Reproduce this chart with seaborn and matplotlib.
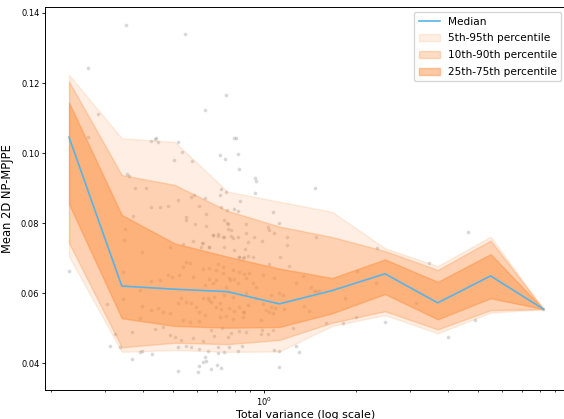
import matplotlib
matplotlib.use("Agg")
import matplotlib.pyplot as plt
import seaborn as sns

# binned statistics (log-spaced bins of total variance)
x_bins = [0.229, 0.341, 0.508, 0.757, 1.120, 1.668, 2.486, 3.703, 5.518, 8.222]
median = [0.1045, 0.0620, 0.0611, 0.0604, 0.0569, 0.0607, 0.0655, 0.0572, 0.0649, 0.0554]
p5 = [0.0704, 0.0432, 0.0437, 0.0432, 0.0433, 0.0506, 0.0537, 0.0485, 0.0544, 0.0554]
p95 = [0.1223, 0.1042, 0.1032, 0.0890, 0.0861, 0.0832, 0.0728, 0.0677, 0.0761, 0.0554]
p10 = [0.0743, 0.0445, 0.0458, 0.0454, 0.0466, 0.0515, 0.0548, 0.0496, 0.0551, 0.0554]
p90 = [0.1204, 0.0937, 0.0909, 0.0835, 0.0790, 0.0760, 0.0720, 0.0666, 0.0750, 0.0554]
p25 = [0.0854, 0.0528, 0.0506, 0.0501, 0.0503, 0.0542, 0.0597, 0.0525, 0.0585, 0.0554]
p75 = [0.1144, 0.0823, 0.0742, 0.0704, 0.0670, 0.0643, 0.0696, 0.0632, 0.0711, 0.0554]

# individual samples
pts_x = [
    0.265, 0.351, 0.285, 0.265, 0.355, 0.360, 0.376, 0.371, 0.349, 0.346,
    0.397, 0.229, 0.344, 0.391, 0.344, 0.396, 0.305, 0.391, 0.367, 0.325,
    0.311, 0.336, 0.391, 0.397, 0.367, 0.409,
    0.437, 0.443, 0.426, 0.449, 0.520, 0.551, 0.746, 0.641, 0.798, 0.807,
    0.537, 0.714, 0.741, 0.817, 0.506, 0.580, 0.829, 0.935, 0.940, 0.722,
    0.749, 0.718, 0.930, 0.586, 0.577, 0.520, 0.639, 0.830, 0.426, 0.456,
    0.611, 0.483, 0.722, 0.753, 0.798, 0.818, 0.645, 0.552, 0.555, 0.740,
    0.755, 0.763, 0.778, 0.763, 0.871, 0.645, 0.591, 0.678, 0.704, 0.731,
    0.788, 0.818, 0.583, 0.629, 0.541, 0.489, 0.621, 0.661, 0.882, 0.860,
    0.829, 0.882, 0.552, 0.569, 0.541, 0.629, 0.483, 0.499, 0.527, 0.583,
    0.731, 0.768, 0.798, 0.426, 0.454, 0.860, 0.534, 0.555, 0.521, 0.576,
    0.629, 0.661, 0.448, 0.426, 0.465, 0.489, 0.598, 0.613, 0.695, 0.722,
    0.768, 0.798, 0.829, 0.860, 0.713, 0.749, 0.788, 0.849, 0.541, 0.569,
    0.613, 0.465, 0.437, 0.669, 0.727, 0.778, 0.829, 0.871, 0.489, 0.508,
    0.534, 0.583, 0.629, 0.686, 0.759, 0.555, 0.576, 0.521, 0.613, 0.653,
    0.704, 0.768, 0.818, 0.429, 0.637, 0.629, 0.610, 0.669, 0.700, 0.722,
    0.521, 0.605, 0.645, 0.704, 0.846, 0.740,
    1.064, 1.114, 1.025, 1.033, 1.078, 1.191, 1.475, 0.983, 1.125, 1.201,
    1.038, 0.987, 1.078, 1.269, 1.334, 1.421, 1.482, 1.052, 1.114, 1.148,
    1.840, 0.987, 1.052, 1.086, 1.156, 1.396, 1.033, 1.064, 0.975, 1.237,
    1.598, 1.812, 1.064, 1.025, 0.983, 0.972, 1.269, 1.078, 1.119, 1.295,
    1.119, 1.468, 1.351, 1.513, 1.457, 2.018, 1.998, 2.317, 2.346, 2.486,
    3.132, 3.469, 4.003, 4.642, 4.918, 8.222,
    0.681, 0.704, 0.740, 0.778, 0.871, 0.927, 0.626, 0.658, 0.740, 0.798,
    0.867, 1.189, 0.824, 0.849, 0.916, 0.704, 0.731, 0.695, 0.661, 0.788,
    0.829, 0.893, 0.661, 0.695, 0.774, 0.818, 0.871, 0.916, 0.637, 0.678,
    0.749, 0.940, 0.653, 0.686, 0.740, 0.788, 0.871, 0.940, 0.669, 0.713,
    0.882, 1.013, 0.849, 0.637,
]
pts_y = [
    0.1242, 0.1366, 0.1111, 0.1045, 0.0940, 0.0934, 0.0901, 0.0821, 0.0783, 0.0751,
    0.0718, 0.0664, 0.0661, 0.0609, 0.0583, 0.0563, 0.0569, 0.0529, 0.0489, 0.0483,
    0.0449, 0.0445, 0.0432, 0.0434, 0.0411, 0.0900,
    0.1041, 0.1042, 0.1034, 0.1032, 0.1031, 0.1341, 0.1166, 0.1122, 0.1043, 0.1044,
    0.1002, 0.0994, 0.0982, 0.0996, 0.0980, 0.0977, 0.0954, 0.0928, 0.0920, 0.0896,
    0.0889, 0.0881, 0.0887, 0.0879, 0.0874, 0.0866, 0.0871, 0.0864, 0.0845, 0.0847,
    0.0850, 0.0849, 0.0845, 0.0837, 0.0839, 0.0835, 0.0826, 0.0818, 0.0809, 0.0809,
    0.0801, 0.0797, 0.0780, 0.0782, 0.0796, 0.0791, 0.0797, 0.0766, 0.0763, 0.0761,
    0.0756, 0.0761, 0.0749, 0.0744, 0.0740, 0.0732, 0.0731, 0.0731, 0.0747, 0.0704,
    0.0702, 0.0706, 0.0689, 0.0685, 0.0675, 0.0668, 0.0651, 0.0647, 0.0651, 0.0647,
    0.0656, 0.0644, 0.0639, 0.0635, 0.0637, 0.0654, 0.0585, 0.0575, 0.0571, 0.0571,
    0.0585, 0.0580, 0.0556, 0.0551, 0.0547, 0.0544, 0.0561, 0.0547, 0.0561, 0.0553,
    0.0556, 0.0549, 0.0561, 0.0547, 0.0532, 0.0534, 0.0527, 0.0532, 0.0523, 0.0518,
    0.0520, 0.0504, 0.0496, 0.0494, 0.0499, 0.0485, 0.0492, 0.0489, 0.0480, 0.0475,
    0.0466, 0.0471, 0.0463, 0.0477, 0.0473, 0.0449, 0.0447, 0.0445, 0.0440, 0.0435,
    0.0447, 0.0447, 0.0435, 0.0425, 0.0416, 0.0402, 0.0392, 0.0382, 0.0394, 0.0385,
    0.0378, 0.0375, 0.0406, 0.0428, 0.0449, 0.0432,
    0.0832, 0.0799, 0.0788, 0.0780, 0.0771, 0.0759, 0.0759, 0.0749, 0.0702, 0.0678,
    0.0683, 0.0651, 0.0644, 0.0628, 0.0649, 0.0618, 0.0607, 0.0594, 0.0601, 0.0594,
    0.0585, 0.0569, 0.0561, 0.0556, 0.0553, 0.0549, 0.0546, 0.0542, 0.0523, 0.0499,
    0.0513, 0.0513, 0.0494, 0.0483, 0.0494, 0.0482, 0.0450, 0.0437, 0.0434, 0.0431,
    0.0389, 0.0901, 0.0563, 0.0607, 0.0607, 0.0664, 0.0532, 0.0628, 0.0728, 0.0516,
    0.0572, 0.0685, 0.0475, 0.0773, 0.0522, 0.0554,
    0.0766, 0.0769, 0.0759, 0.0763, 0.0772, 0.0759, 0.0742, 0.0732, 0.0732, 0.0723,
    0.0725, 0.0737, 0.0704, 0.0701, 0.0704, 0.0682, 0.0675, 0.0666, 0.0671, 0.0666,
    0.0661, 0.0658, 0.0639, 0.0637, 0.0637, 0.0628, 0.0642, 0.0628, 0.0623, 0.0628,
    0.0618, 0.0618, 0.0585, 0.0590, 0.0594, 0.0590, 0.0599, 0.0585, 0.0575, 0.0571,
    0.0566, 0.0551, 0.0545, 0.0537,
]

BAND_COLOR = "#fd8d3c"
LINE_COLOR = "#56b4e9"

fig = plt.figure(figsize=(5.64, 4.19), dpi=100)
ax = fig.add_axes([0.0798, 0.0692, 0.925, 0.914])

sns.scatterplot(x=pts_x, y=pts_y, color="gray", alpha=0.3, s=7, linewidth=0.3, ax=ax)

# percentile bands, widest first
ax.fill_between(x_bins, p5, p95, color=BAND_COLOR, alpha=0.14, label="5th-95th percentile")
ax.fill_between(x_bins, p10, p90, color=BAND_COLOR, alpha=0.29, label="10th-90th percentile")
ax.fill_between(x_bins, p25, p75, color=BAND_COLOR, alpha=0.46, label="25th-75th percentile")

sns.lineplot(x=x_bins, y=median, color=LINE_COLOR, linewidth=1.2, label="Median", ax=ax)

ax.set_xscale("log")
ax.set_xlim(0.191, 9.8)
ax.set_ylim(0.0323, 0.1417)
ax.set_xlabel("Total variance (log scale)", fontsize=8, labelpad=1.5)
ax.set_ylabel("Mean 2D NP-MPJPE", fontsize=8.3, labelpad=5)
ax.tick_params(which="major", labelsize=6, length=2.5, width=0.6, pad=1.5)
ax.tick_params(which="minor", length=1.5, width=0.5)
for sp in ax.spines.values():
    sp.set_linewidth(0.7)

# median first in the legend
handles, labels = ax.get_legend_handles_labels()
order = [labels.index(l) for l in ["Median", "5th-95th percentile", "10th-90th percentile", "25th-75th percentile"]]
ax.legend([handles[i] for i in order], [labels[i] for i in order], loc="upper right",
          fontsize=7.6, labelspacing=0.65)

fig.savefig("out.png", dpi=100)
